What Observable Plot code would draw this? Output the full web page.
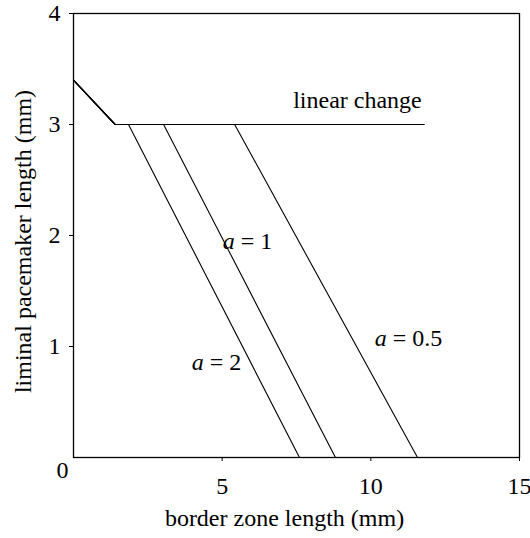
<!DOCTYPE html>
<html><head><meta charset="utf-8">
<script src="https://cdn.jsdelivr.net/npm/d3@7"></script>
<script src="https://cdn.jsdelivr.net/npm/@observablehq/plot@0.6"></script>
<style>body{margin:0;background:#fff}</style>
</head><body><div id="chart"></div>
<script>
// Curves (border zone length x, liminal pacemaker length y)
const linearX = [0, 1.4, 11.8];
const linearY = [3.4, 3.0, 3.0];
const a2X = [0, 1.4, 1.85, 7.6, 15];
const a2Y = [3.4, 3.0, 3.0, 0, 0];
const a1X = [0, 1.4, 3.03, 8.81, 15];
const a1Y = [3.4, 3.0, 3.0, 0, 0];
const a05X = [0, 1.4, 5.42, 11.57, 15];
const a05Y = [3.4, 3.0, 3.0, 0, 0];

// Annotations
const labelText = ["linear change", "a = 1", "a = 0.5", "a = 2"];
const labelX = [9.55, 5.85, 11.27, 4.81];
const labelY = [3.22, 1.95, 1.07, 0.86];

const xTicks = [5, 10, 15];
const yTicks = [1, 2, 3, 4];

const toRows = (xs, ys) => xs.map((x, i) => ({x, y: ys[i]}));
const series = [toRows(linearX, linearY), toRows(a2X, a2Y), toRows(a1X, a1Y), toRows(a05X, a05Y)];
const labels = labelText.map((t, i) => ({t, x: labelX[i], y: labelY[i]}));

const font = "Liberation Serif, Times New Roman, serif";
const fs = 24;
const svg = Plot.plot({
  width: 530, height: 538,
  marginLeft: 73, marginRight: 11, marginTop: 13, marginBottom: 81,
  style: {fontFamily: font, fontSize: fs + "px", color: "black", background: "white", overflow: "visible"},
  x: {domain: [0, 15]},
  y: {domain: [0, 4]},
  marks: [
    ...series.map(d => Plot.line(d, {x: "x", y: "y", stroke: "black", strokeWidth: 1.1})),
    Plot.frame({stroke: "black", strokeWidth: 1.3}),
    Plot.axisX({ticks: xTicks, tickFormat: "d", tickSize: 4, tickPadding: 15, fontSize: fs, label: null}),
    Plot.axisY({ticks: yTicks, tickFormat: "d", tickSize: 4, tickPadding: 9, fontSize: fs, label: null}),
    Plot.text(["0"], {frameAnchor: "bottom-left", dx: -17, dy: 20, fontSize: fs}),
    Plot.text(["border zone length (mm)"], {frameAnchor: "bottom", dx: -12, dy: 68, fontSize: fs}),
    Plot.text(["liminal pacemaker length (mm)"], {frameAnchor: "left", textAnchor: "middle", rotate: -90, dx: -50, dy: 6, fontSize: fs}),
    Plot.text(labels, {x: "x", y: "y", text: "t", fontSize: fs})
  ]
});
d3.select(svg).selectAll("text").each(function() {
  const s = this.textContent;
  if (/^a = /.test(s) && this.children.length === 0) {
    const el = d3.select(this);
    el.text(null);
    el.append("tspan").attr("font-style", "italic").text("a");
    el.append("tspan").text(s.slice(1));
  }
});
document.getElementById("chart").appendChild(svg);
</script>
</body></html>
